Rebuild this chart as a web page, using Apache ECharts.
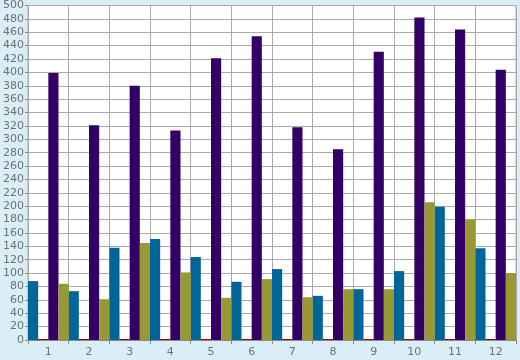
<!DOCTYPE html>
<html>
<head>
<meta charset="utf-8">
<script src="https://cdn.jsdelivr.net/npm/echarts@6/dist/echarts.min.js"></script>
<style>
html,body{margin:0;padding:0;background:#d9eef6;}
#c{width:520px;height:360px;}
</style>
</head>
<body>
<div id="c"></div>
<script>
var categories = ['1','2','3','4','5','6','7','8','9','10','11','12'];
var blueValues = [88, 73, 138, 151, 124, 87, 106, 66, 76, 103, 199, 137];
var redValues = [1.5, 1.5, 1.5, 1.5, 1.5, 1.5, 1.5, 1.5, 1.5, 1.5, 1.5, 1.5];
var purpleValues = [399, 321, 380, 313, 421, 454, 318, 285, 431, 482, 464, 404];
var oliveValues = [84, 61, 145, 101, 63, 91, 64, 76, 76, 206, 180, 100];

var chart = echarts.init(document.getElementById('c'), null, {renderer:'canvas'});
var font = 'DejaVu Sans';
function bar(name, data, color){
  return {name:name, type:'bar', data:data, barGap:'0%', barCategoryGap:'0%',
    barMinHeight:1, itemStyle:{color:color}, animation:false};
}
chart.setOption({
  backgroundColor:'#d9eef6',
  animation:false,
  grid:{left:26, right:4, top:5, bottom:20, show:true, backgroundColor:'#ffffff', borderColor:'#aaaaaa', borderWidth:1},
  xAxis:{type:'category', data:categories,
    axisLine:{show:true, lineStyle:{color:'#888888'}},
    axisTick:{show:true, length:4, lineStyle:{color:'#888888'}},
    axisLabel:{color:'#707070', fontFamily:font, fontSize:11, margin:7},
    splitLine:{show:true, lineStyle:{color:'#aaaaaa', width:1}}},
  yAxis:{type:'value', min:0, max:500, interval:20,
    axisLine:{show:false},
    axisTick:{show:true, length:3, lineStyle:{color:'#888888'}},
    axisLabel:{color:'#707070', fontFamily:font, fontSize:11, margin:4},
    splitLine:{show:true, lineStyle:{color:'#aaaaaa', width:1}}},
  series:[
    bar('A', blueValues, '#006699'),
    bar('B', redValues, '#990000'),
    bar('C', purpleValues, '#330066'),
    bar('D', oliveValues, '#999933')
  ]
});
</script>
</body>
</html>
